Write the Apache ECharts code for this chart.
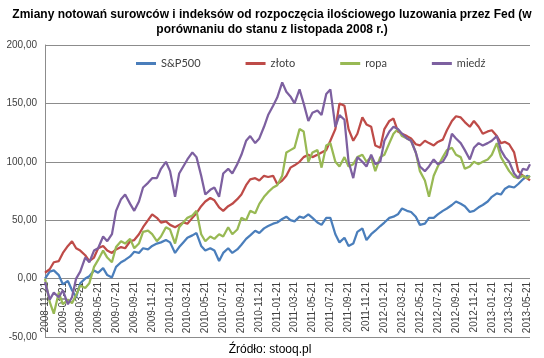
<!DOCTYPE html>
<html>
<head>
<meta charset="utf-8">
<script src="https://cdn.jsdelivr.net/npm/echarts@6/dist/echarts.min.js"></script>
<style>html,body{margin:0;padding:0;background:#fff;}#c{width:544px;height:358px;}</style>
</head>
<body>
<div id="c"></div>
<script>
const dates = [
'2008-11-21','2008-12-07','2008-12-21',
'2009-01-07','2009-01-21','2009-02-07','2009-02-21','2009-03-07','2009-03-21','2009-04-07','2009-04-21','2009-05-07','2009-05-21','2009-06-07','2009-06-21',
'2009-07-07','2009-07-21','2009-08-07','2009-08-21','2009-09-07','2009-09-21','2009-10-07','2009-10-21','2009-11-07','2009-11-21','2009-12-07','2009-12-21',
'2010-01-07','2010-01-21','2010-02-07','2010-02-21','2010-03-07','2010-03-21','2010-04-07','2010-04-21','2010-05-07','2010-05-21','2010-06-07','2010-06-21',
'2010-07-07','2010-07-21','2010-08-07','2010-08-21','2010-09-07','2010-09-21','2010-10-07','2010-10-21','2010-11-07','2010-11-21','2010-12-07','2010-12-21',
'2011-01-07','2011-01-21','2011-02-07','2011-02-21','2011-03-07','2011-03-21','2011-04-07','2011-04-21','2011-05-07','2011-05-21','2011-06-07','2011-06-21',
'2011-07-07','2011-07-21','2011-08-07','2011-08-21','2011-09-07','2011-09-21','2011-10-07','2011-10-21','2011-11-07','2011-11-21','2011-12-07','2011-12-21',
'2012-01-07','2012-01-21','2012-02-07','2012-02-21','2012-03-07','2012-03-21','2012-04-07','2012-04-21','2012-05-07','2012-05-21','2012-06-07','2012-06-21',
'2012-07-07','2012-07-21','2012-08-07','2012-08-21','2012-09-07','2012-09-21','2012-10-07','2012-10-21','2012-11-07','2012-11-21','2012-12-07','2012-12-21',
'2013-01-07','2013-01-21','2013-02-07','2013-02-21','2013-03-07','2013-03-21','2013-04-07','2013-04-21','2013-05-07','2013-05-21','2013-05-31'
];

const sp500 = [
0, 6, 7,
3, -5, -2, -10, -16, -4, 0, 2, 7, 5, 9, 3, 1, 10, 14, 16, 19, 23, 22, 26, 25, 28, 30, 31,
33, 31, 22, 27, 31, 35, 37, 39, 28, 24, 26, 24, 15, 22, 26, 22, 25, 29, 34, 37, 41, 39, 43, 45,
47, 48, 51, 53, 50, 49, 53, 52, 55, 52, 48, 46, 52, 52, 38, 31, 35, 28, 30, 40, 43, 33, 38, 41,
45, 48, 52, 53, 55, 60, 58, 57, 53, 46, 47, 52, 52, 55, 58, 60, 63, 66, 64, 62, 57, 58, 61, 63,
66, 70, 73, 72, 77, 79, 78, 81, 85, 88, 87
];

const zloto = [
5, 8, 14,
15, 22, 28, 32, 26, 24, 20, 15, 18, 26, 28, 24, 22, 25, 27, 26, 32, 33, 38, 44, 50, 55, 52, 48,
49, 46, 44, 46, 48, 47, 52, 56, 62, 66, 69, 67, 61, 58, 62, 64, 68, 72, 80, 85, 86, 84, 88, 87,
88, 81, 84, 88, 95, 97, 100, 104, 106, 104, 106, 108, 110, 118, 128, 150, 148, 128, 118, 124, 138, 132, 130, 114,
112, 128, 135, 137, 126, 124, 122, 120, 115, 114, 118, 116, 114, 117, 119, 127, 135, 139, 138, 134, 130, 135, 130, 124,
126, 127, 122, 116, 117, 115, 108, 92, 88, 86, 84
];

const ropa = [
0, -20, -30,
-12, -22, -18, -21, -14, -6, -8, -4, 10, 16, 24, 18, 14, 27, 32, 30, 34, 26, 30, 40, 41, 38, 32, 36,
44, 42, 30, 44, 48, 52, 54, 58, 38, 32, 36, 34, 38, 36, 44, 38, 42, 52, 50, 58, 56, 64, 70, 74,
78, 80, 88, 108, 110, 112, 128, 126, 100, 108, 110, 95, 114, 116, 100, 96, 104, 96, 98, 104, 106, 100, 104, 92,
104, 106, 116, 124, 128, 122, 120, 118, 108, 92, 84, 70, 88, 96, 104, 110, 112, 106, 104, 94, 96, 100, 98, 100,
102, 106, 116, 104, 98, 92, 87, 86, 88, 86, 88
];

const miedz = [
-3, -18, -12,
-16, -10, -22, -16, 0, 6, 18, 14, 24, 26, 36, 32, 38, 58, 68, 72, 64, 58, 66, 78, 82, 86, 86, 94,
100, 92, 70, 90, 96, 102, 108, 104, 88, 72, 76, 78, 70, 90, 94, 90, 98, 106, 118, 122, 116, 120, 130, 140,
148, 155, 168, 160, 156, 150, 162, 150, 135, 142, 144, 140, 158, 162, 130, 140, 136, 100, 86, 104, 100, 96, 106, 98,
100, 118, 126, 130, 128, 124, 120, 118, 108, 96, 92, 96, 102, 98, 100, 106, 124, 120, 116, 110, 102, 112, 116, 114,
116, 118, 122, 110, 104, 100, 90, 86, 94, 93, 98
];

const xTickLabels = [
'2008-11-21','2009-01-21','2009-03-21','2009-05-21','2009-07-21','2009-09-21','2009-11-21',
'2010-01-21','2010-03-21','2010-05-21','2010-07-21','2010-09-21','2010-11-21',
'2011-01-21','2011-03-21','2011-05-21','2011-07-21','2011-09-21','2011-11-21',
'2012-01-21','2012-03-21','2012-05-21','2012-07-21','2012-09-21','2012-11-21',
'2013-01-21','2013-03-21','2013-05-21'
];

const seriesNames = ['S&P500', 'złoto', 'ropa', 'miedź'];
const seriesValues = [sp500, zloto, ropa, miedz];
const seriesColors = ['#4A7EBB', '#BE4B48', '#98B954', '#7D60A0'];

function pad(n){ return (n < 10 ? '0' : '') + n; }
function ts(s){ return Date.parse(s + 'T00:00:00Z'); }

const chart = echarts.init(document.getElementById('c'), null, {renderer: 'canvas'});
chart.setOption({
  animation: false,
  backgroundColor: '#ffffff',
  legend: {
    left: 131,
    top: 53,
    itemGap: 45,
    itemWidth: 20,
    itemHeight: 3,
    icon: 'rect',
    textStyle: {fontFamily: 'Lato, sans-serif', fontSize: 11, color: '#404040'},
    data: seriesNames
  },
  graphic: [{
    type: 'text',
    x: 272,
    y: 7,
    style: {
      text: 'Zmiany notowań surowców i indeksów od rozpoczęcia ilościowego luzowania przez Fed (w\nporównaniu do stanu z listopada 2008 r.)',
      font: 'bold 12px "Liberation Sans", Arial, sans-serif',
      fill: '#000',
      align: 'center',
      lineHeight: 15
    }
  }, {
    type: 'text',
    x: 270,
    y: 344,
    style: {text: 'Źródło: stooq.pl', font: '12px "Liberation Sans", Arial, sans-serif', fill: '#000', align: 'center'}
  }],
  grid: {left: 45, right: 14, top: 45, bottom: 21, outerBoundsMode: 'none', containLabel: false},
  xAxis: {
    type: 'value',
    min: ts(dates[0]),
    max: ts(dates[dates.length - 1]),
    axisLine: {show: false},
    axisTick: {show: false},
    splitLine: {show: false},
    axisLabel: {
      customValues: xTickLabels.map(ts),
      rotate: 90,
      margin: -55,
      fontSize: 10,
      fontFamily: 'Liberation Sans, Arial, sans-serif',
      color: '#404040',
      hideOverlap: false,
      formatter: function (v) {
        const d = new Date(v);
        return d.getUTCFullYear() + '-' + pad(d.getUTCMonth() + 1) + '-' + pad(d.getUTCDate());
      }
    }
  },
  yAxis: {
    type: 'value',
    min: -50,
    max: 200,
    interval: 50,
    axisLine: {show: true, lineStyle: {color: '#8c8c8c', width: 1}},
    axisTick: {show: false},
    splitLine: {show: true, lineStyle: {color: '#8c8c8c', width: 1}},
    axisLabel: {
      margin: 8,
      fontSize: 10,
      fontFamily: 'Liberation Sans, Arial, sans-serif',
      color: '#404040',
      formatter: function (v) { return v.toFixed(2).replace('.', ','); }
    }
  },
  series: seriesNames.map(function (name, k) {
    return {
      name: name,
      type: 'line',
      symbol: 'none',
      showSymbol: false,
      smooth: false,
      color: seriesColors[k],
      lineStyle: {width: 2.25, color: seriesColors[k]},
      data: dates.map(function (d, i) { return [ts(d), seriesValues[k][i]]; })
    };
  })
});
</script>
</body>
</html>
